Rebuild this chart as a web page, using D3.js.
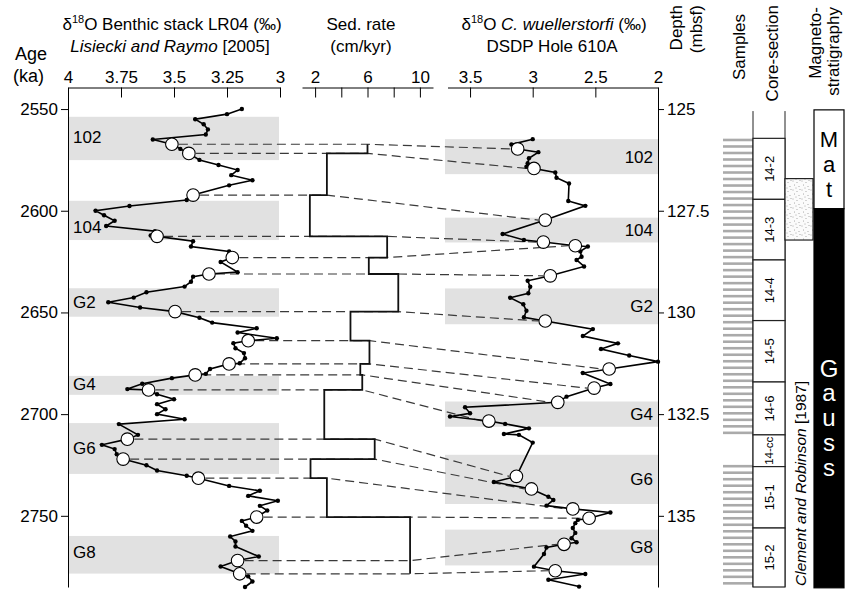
<!DOCTYPE html>
<html>
<head>
<meta charset="utf-8">
<script src="https://cdn.jsdelivr.net/npm/d3@7"></script>
<style>
body { margin: 0; background: #fff; }
svg text { font-family: "Liberation Sans", Arial, sans-serif; fill: #000; }
</style>
</head>
<body>
<svg id="chart" width="845" height="592"></svg>
<script>
// LR04 benthic stack: [age ka, d18O permil]
var lr04 = [
  [2550.0,3.18],[2552.5,3.25],[2555,3.40],[2557.5,3.36],[2560,3.34],[2562.5,3.35],[2565,3.60],
  [2567.3,3.51],[2569.6,3.47],[2571.8,3.43],[2575,3.38],[2577.5,3.29],[2580,3.20],[2582.5,3.23],
  [2585,3.13],[2587.5,3.24],[2592.3,3.41],[2594.7,3.44],[2597.7,3.71],[2600,3.87],[2602.2,3.83],
  [2604.9,3.78],[2607.5,3.82],[2610,3.59],[2612.2,3.61],[2612.6,3.58],[2615,3.41],[2617.6,3.42],
  [2620,3.24],[2623,3.225],[2625.2,3.28],[2630.2,3.20],[2631.1,3.335],[2632.4,3.41],[2634.9,3.42],
  [2637.3,3.45],[2640.1,3.63],[2642.7,3.69],[2645,3.81],[2647.6,3.66],[2649.6,3.495],[2652.6,3.38],
  [2655,3.32],[2657.8,3.11],[2659.9,3.20],[2662.7,3.015],[2663.9,3.15],[2665.1,3.22],[2667.6,3.21],
  [2670,3.17],[2672.5,3.165],[2675,3.19],[2675.3,3.24],[2677.8,3.33],[2680.2,3.35],[2680.7,3.40],
  [2682.3,3.51],[2685.1,3.65],[2687.7,3.72],[2688.1,3.62],[2690.2,3.58],[2692.7,3.50],[2695.1,3.58],
  [2697.6,3.54],[2700,3.58],[2702.5,3.45],[2704.9,3.76],[2710.2,3.67],[2712.3,3.72],[2715.1,3.84],
  [2717.2,3.78],[2719.7,3.77],[2722.1,3.74],[2725.1,3.63],[2727.7,3.58],[2730.3,3.44],[2731.5,3.385],
  [2735.3,3.24],[2737.7,3.095],[2740.2,3.15],[2742.6,3.01],[2745.1,3.095],[2747.4,3.06],[2750.6,3.11],
  [2752.5,3.18],[2754.9,3.16],[2757.4,3.13],[2760.2,3.235],[2762.6,3.21],[2765.1,3.21],[2770,3.10],
  [2772,3.20],[2774.9,3.28],[2778.5,3.19],[2779.8,3.15],[2782.3,3.13],[2785,3.165]
];

// C. wuellerstorfi, DSDP 610A: [depth mbsf, d18O permil]
var cw = [
  [125.74,3.00],[125.87,3.17],[125.98,3.12],[126.06,2.955],[126.21,3.03],[126.33,3.04],[126.42,3.05],
  [126.46,2.99],[126.56,2.82],[126.69,2.81],[126.83,2.71],[127.26,2.716],[127.38,2.58],[127.73,2.90],
  [128.07,3.24],[128.22,3.07],[128.27,2.915],[128.36,2.66],[128.38,2.56],[128.5,2.62],[128.63,2.61],
  [128.71,2.65],[128.87,2.59],[129.1,2.86],[129.22,3.04],[129.37,3.02],[129.53,3.035],[129.64,3.18],
  [129.8,3.075],[129.96,3.05],[130.12,3.07],[130.21,2.90],[130.41,2.52],[130.58,2.60],[130.76,2.32],
  [130.9,2.455],[131.06,2.23],[131.21,2.0],[131.39,2.39],[131.49,2.60],[131.76,2.38],[131.86,2.51],
  [132.07,2.73],[132.21,2.80],[132.33,3.54],[132.48,3.50],[132.56,3.66],[132.67,3.35],[132.74,3.22],
  [132.85,3.03],[132.99,3.23],[133.01,3.11],[133.2,3.00],[134.03,3.13],[134.17,3.31],[134.34,3.01],
  [134.53,2.875],[134.61,2.835],[134.75,2.89],[134.83,2.68],[134.92,2.38],[135.06,2.55],[135.1,2.64],
  [135.18,2.66],[135.3,2.68],[135.42,2.66],[135.55,2.69],[135.65,2.65],[135.7,2.75],[135.78,2.89],
  [135.94,2.91],[136.25,2.99],[136.35,2.82],[136.43,2.58],[136.57,2.875],[136.74,2.63]
];

// tie points (open circles)
var tieAge   = [2567.3,2571.8,2592.3,2612.6,2623,2631.1,2649.6,2663.9,2675.3,2680.7,2688.1,2712.3,2722.1,2731.5,2750.6,2772,2778.5];
var tieLR    = [3.51,3.43,3.41,3.58,3.225,3.335,3.495,3.15,3.24,3.40,3.62,3.72,3.74,3.385,3.11,3.20,3.19];
var tieDepth = [125.98,126.46,127.73,128.27,128.36,129.1,130.21,131.39,131.86,132.21,132.67,134.03,134.34,134.83,135.06,135.7,136.35];
var tieCw    = [3.12,2.99,2.90,2.915,2.66,2.86,2.90,2.39,2.51,2.80,3.35,3.13,3.01,2.68,2.55,2.75,2.82];

// sedimentation rate between consecutive ties (cm/kyr)
var sedRate = [6.0,2.9,1.6,7.5,6.1,8.35,4.7,6.15,5.45,5.6,2.7,6.55,1.65,2.9,9.25,9.25];

// marine isotope stages
var misLabels = ["102","104","G2","G4","G6","G8"];
var lrBandTop = [2553.8,2595.1,2638.1,2681.2,2704.4,2759.9];
var lrBandBot = [2575.1,2614.4,2652.1,2690.5,2729.4,2778.4];
var lrLabelAge = [2563.6,2607.9,2644.8,2685.1,2716.5,2767.6];
var cwBandTop = [125.74,127.67,129.41,132.19,133.5,135.34];
var cwBandBot = [126.6,128.28,130.29,132.81,134.71,136.22];

// axis ticks
var ageTicks = [2550,2600,2650,2700,2750];
var depthTicks = [125,127.5,130,132.5,135];
var lrTicks = [4,3.75,3.5,3.25,3];
var sedTicks = [2,4,6,8,10];
var sedTickLabels = [2,6,10];
var cwTicks = [3.5,3,2.5,2];

// core sections in mbsf
var sectionNames = ["14-2","14-3","14-4","14-5","14-6","14-cc","15-1","15-2"];
var sectionTop = [125.72,127.22,128.71,130.2,131.71,133.01,133.79,135.3];
var sectionBot = [127.22,128.71,130.2,131.71,133.01,133.79,135.3,136.75];

// sample depths
var samples = [
  125.76,125.92,126.08,126.24,126.40,126.56,126.72,126.88,127.04,127.20,127.36,127.52,127.68,127.84,
  128.00,128.16,128.32,128.48,128.64,128.80,128.96,129.12,129.28,129.44,129.60,129.76,129.92,130.08,
  130.24,130.40,130.56,130.72,130.88,131.04,131.20,131.36,131.52,131.68,131.84,132.00,132.16,132.32,
  132.48,132.64,132.80,132.96,
  133.78,133.94,134.10,134.26,134.42,134.58,134.74,134.90,135.06,135.22,135.38,135.54,135.70,135.86,
  136.02,136.18,136.34,136.50,136.66
];

// lithology (stippled interval) and magnetostratigraphy
var stippleTop = 126.71, stippleBot = 128.22;
var chronNames = ["Mat","Gauss"];
var chronTop = [125.02,127.45];
var chronBot = [127.45,136.77];

var svg = d3.select("#chart");
var FONT = '"Liberation Sans", Arial, sans-serif';

var yAge = d3.scaleLinear().domain([2539.4, 2785]).range([87.5, 587]);
var yDep = d3.scaleLinear().domain([124.47, 136.75]).range([87.5, 587]);
var xLR = d3.scaleLinear().domain([4, 3]).range([68, 280]);
var xSed = d3.scaleLinear().domain([1, 11]).range([302, 433]);
var xCw = d3.scaleLinear().domain([3.68, 2]).range([447.5, 658]);

// stipple pattern
var defs = svg.append("defs");
var pat = defs.append("pattern").attr("id", "stip").attr("width", 9).attr("height", 9)
  .attr("patternUnits", "userSpaceOnUse");
pat.append("rect").attr("width", 9).attr("height", 9).attr("fill", "#fbfbfb");
[[1,1],[5,2.5],[2.5,5],[7,6.5],[4,8],[8,0.5]].forEach(function(p){
  pat.append("circle").attr("cx", p[0]).attr("cy", p[1]).attr("r", 0.45).attr("fill", "#555");
});

// bands
misLabels.forEach(function(lab, i){
  svg.append("rect").attr("x", 68).attr("width", 211)
    .attr("y", yAge(lrBandTop[i])).attr("height", yAge(lrBandBot[i]) - yAge(lrBandTop[i]))
    .attr("fill", "#e1e1e1");
  svg.append("rect").attr("x", 445).attr("width", 213)
    .attr("y", yDep(cwBandTop[i])).attr("height", yDep(cwBandBot[i]) - yDep(cwBandTop[i]))
    .attr("fill", "#e1e1e1");
  svg.append("text").attr("x", 73).attr("y", yAge(lrLabelAge[i])).attr("dy", "0.35em")
    .attr("font-size", 17).text(lab);
  svg.append("text").attr("x", 653).attr("y", yDep((cwBandTop[i] + cwBandBot[i]) / 2)).attr("dy", "0.35em")
    .attr("text-anchor", "end").attr("font-size", 17).text(lab);
});

// dashed correlation lines
tieAge.forEach(function(a, i){
  var before = i > 0 ? sedRate[i - 1] : sedRate[i];
  var after = i < sedRate.length ? sedRate[i] : sedRate[i - 1];
  var xm = xSed(Math.max(before, after));
  var p = d3.path();
  p.moveTo(xLR(tieLR[i]) + 7, yAge(a));
  p.lineTo(xm, yAge(a));
  p.lineTo(xCw(tieCw[i]) - 7, yDep(tieDepth[i]));
  svg.append("path").attr("d", p.toString()).attr("fill", "none")
    .attr("stroke", "#3a3a3a").attr("stroke-width", 1.2).attr("stroke-dasharray", "9,5");
});

// sed rate step line
var sp = d3.path();
sp.moveTo(xSed(sedRate[0]), yAge(tieAge[0]));
sedRate.forEach(function(r, i){
  sp.lineTo(xSed(r), yAge(tieAge[i + 1]));
  if (i + 1 < sedRate.length) sp.lineTo(xSed(sedRate[i + 1]), yAge(tieAge[i + 1]));
});
svg.append("path").attr("d", sp.toString()).attr("fill", "none")
  .attr("stroke", "#111").attr("stroke-width", 1.8);

// curves
var lineLR = d3.line().x(function(d){ return xLR(d[1]); }).y(function(d){ return yAge(d[0]); });
var lineCw = d3.line().x(function(d){ return xCw(d[1]); }).y(function(d){ return yDep(d[0]); });
svg.append("path").attr("d", lineLR(lr04)).attr("fill", "none").attr("stroke", "#000").attr("stroke-width", 1.6);
svg.append("path").attr("d", lineCw(cw)).attr("fill", "none").attr("stroke", "#000").attr("stroke-width", 1.6);
svg.append("g").selectAll("circle").data(lr04).enter().append("circle")
  .attr("cx", function(d){ return xLR(d[1]); }).attr("cy", function(d){ return yAge(d[0]); })
  .attr("r", 2.2).attr("fill", "#000");
svg.append("g").selectAll("circle").data(cw).enter().append("circle")
  .attr("cx", function(d){ return xCw(d[1]); }).attr("cy", function(d){ return yDep(d[0]); })
  .attr("r", 2.2).attr("fill", "#000");

// tie circles
tieAge.forEach(function(a, i){
  svg.append("circle").attr("cx", xLR(tieLR[i])).attr("cy", yAge(a)).attr("r", 6.3)
    .attr("fill", "#fff").attr("stroke", "#000").attr("stroke-width", 1.1);
  svg.append("circle").attr("cx", xCw(tieCw[i])).attr("cy", yDep(tieDepth[i])).attr("r", 6.3)
    .attr("fill", "#fff").attr("stroke", "#000").attr("stroke-width", 1.1);
});

// axes
function styleAxis(g){
  g.attr("font-size", 17).attr("font-family", FONT);
  g.selectAll("path, line").attr("stroke", "#000");
}
var plain = function(d){ return String(d); };
svg.append("g").attr("transform", "translate(0,87.5)")
  .call(d3.axisTop(xLR).tickValues(lrTicks).tickFormat(plain)
    .tickSizeInner(-10).tickSizeOuter(0).tickPadding(5)).call(styleAxis);
svg.append("g").attr("transform", "translate(0,87.5)")
  .call(d3.axisTop(xSed).tickValues(sedTicks)
    .tickFormat(function(d){ return sedTickLabels.indexOf(d) >= 0 ? String(d) : ""; })
    .tickSizeInner(-10).tickSizeOuter(0).tickPadding(5)).call(styleAxis);
svg.append("g").attr("transform", "translate(0,87.5)")
  .call(d3.axisTop(xCw).tickValues(cwTicks).tickFormat(plain)
    .tickSizeInner(-10).tickSizeOuter(0).tickPadding(5)).call(styleAxis);
svg.append("g").attr("transform", "translate(68,0)")
  .call(d3.axisLeft(yAge).tickValues(ageTicks).tickFormat(plain)
    .tickSize(7).tickSizeOuter(0).tickPadding(3)).call(styleAxis);
svg.append("g").attr("transform", "translate(658,0)")
  .call(d3.axisRight(yDep).tickValues(depthTicks).tickFormat(plain)
    .tickSize(6).tickSizeOuter(0).tickPadding(3)).call(styleAxis);

// headers
function sup(t){
  t.append("tspan").text("\u03b4");
  t.append("tspan").attr("font-size", 11).attr("dy", -7).text("18");
}
var t1 = svg.append("text").attr("x", 172).attr("y", 30).attr("text-anchor", "middle").attr("font-size", 17);
sup(t1); t1.append("tspan").attr("dy", 7).text("O Benthic stack LR04 (\u2030)");
var t2 = svg.append("text").attr("x", 170).attr("y", 52).attr("text-anchor", "middle").attr("font-size", 17);
t2.append("tspan").attr("font-style", "italic").text("Lisiecki and Raymo");
t2.append("tspan").text(" [2005]");
svg.append("text").attr("x", 361).attr("y", 30).attr("text-anchor", "middle").attr("font-size", 17).text("Sed. rate");
svg.append("text").attr("x", 361).attr("y", 52).attr("text-anchor", "middle").attr("font-size", 17).text("(cm/kyr)");
var t3 = svg.append("text").attr("x", 554).attr("y", 30).attr("text-anchor", "middle").attr("font-size", 17);
sup(t3); t3.append("tspan").attr("dy", 7).text("O ");
t3.append("tspan").attr("font-style", "italic").text("C. wuellerstorfi");
t3.append("tspan").text(" (\u2030)");
svg.append("text").attr("x", 552).attr("y", 52).attr("text-anchor", "middle").attr("font-size", 17).text("DSDP Hole 610A");
svg.append("text").attr("x", 15).attr("y", 60).attr("font-size", 18).text("Age");
svg.append("text").attr("x", 13).attr("y", 82).attr("font-size", 18).text("(ka)");

function vtext(x, y, anchor, txt, size){
  return svg.append("text").attr("transform", "translate(" + x + "," + y + ") rotate(-90)")
    .attr("text-anchor", anchor).attr("font-size", size || 17).text(txt);
}
vtext(682, 5, "end", "Depth");
vtext(702, 5, "end", "(mbsf)");
vtext(745, 47, "middle", "Samples");
vtext(778, 5, "end", "Core-section");
vtext(821, 7, "end", "Magneto-");
vtext(839, 7, "end", "stratigraphy");

// samples
svg.append("g").selectAll("line").data(samples).enter().append("line")
  .attr("x1", 723).attr("x2", 753)
  .attr("y1", function(d){ return yDep(d); }).attr("y2", function(d){ return yDep(d); })
  .attr("stroke", "#aaa").attr("stroke-width", 2.6);

// core sections
svg.append("line").attr("x1", 753).attr("x2", 753).attr("y1", yDep(125.05)).attr("y2", yDep(136.75)).attr("stroke", "#222");
svg.append("line").attr("x1", 785).attr("x2", 785).attr("y1", yDep(125.05)).attr("y2", yDep(136.75)).attr("stroke", "#222");
sectionNames.forEach(function(n, i){
  svg.append("rect").attr("x", 753).attr("width", 32)
    .attr("y", yDep(sectionTop[i])).attr("height", yDep(sectionBot[i]) - yDep(sectionTop[i]))
    .attr("fill", "#fff").attr("stroke", "#222").attr("stroke-width", 1.2);
  svg.append("text")
    .attr("transform", "translate(769," + yDep((sectionTop[i] + sectionBot[i]) / 2) + ") rotate(-90)")
    .attr("text-anchor", "middle").attr("dy", "0.35em")
    .attr("font-size", n === "14-cc" ? 11.5 : 13).text(n);
});

// stippled interval
svg.append("rect").attr("x", 785).attr("width", 28)
  .attr("y", yDep(stippleTop)).attr("height", yDep(stippleBot) - yDep(stippleTop))
  .attr("fill", "url(#stip)").attr("stroke", "#222").attr("stroke-width", 1.2);

var cr = svg.append("text").attr("transform", "translate(806,586) rotate(-90)").attr("font-size", 15.5);
cr.append("tspan").attr("font-style", "italic").text("Clement and Robinson");
cr.append("tspan").text(" [1987]");

// magnetostratigraphy, chron names stacked letter by letter
var letterStart = [146.5, 376.7];
var letterStep = [25.3, 24.7];
var letterSize = [22, 24];
chronNames.forEach(function(n, i){
  var black = i === 1;
  svg.append("rect").attr("x", 814).attr("width", 30)
    .attr("y", yDep(chronTop[i])).attr("height", yDep(chronBot[i]) - yDep(chronTop[i]))
    .attr("fill", black ? "#000" : "#fff").attr("stroke", "#000").attr("stroke-width", 1.2);
  var t = svg.append("text").attr("x", 829).attr("y", letterStart[i])
    .attr("text-anchor", "middle").attr("font-size", letterSize[i])
    .style("fill", black ? "#fff" : "#000");
  n.split("").forEach(function(ch, k){
    t.append("tspan").attr("x", 829).attr("dy", k === 0 ? 0 : letterStep[i]).text(ch);
  });
});
</script>
</body>
</html>
